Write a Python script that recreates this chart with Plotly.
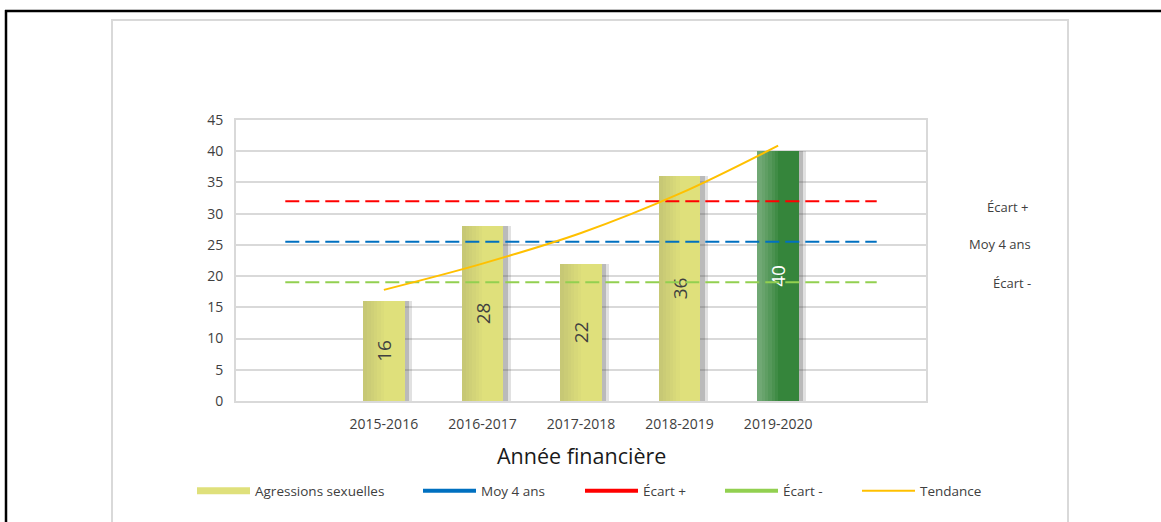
import plotly.graph_objects as go

# Data
years = ["2015-2016", "2016-2017", "2017-2018", "2018-2019", "2019-2020"]
agressions = [16, 28, 22, 36, 40]
tendance = [17.8, 22.0, 26.9, 33.2, 40.9]   # Excel exponential trendline, read at each year
moy_4_ans = 25.5
ecart_plus = 32.0
ecart_moins = 19.0
y_ticks = [0, 5, 10, 15, 20, 25, 30, 35, 40, 45]

# x positions: one empty slot on each side of the bars, the reference lines span all 7 slots
bar_x = [1, 2, 3, 4, 5]
line_x = [0, 6]

W, H = 1161, 522
PL, PR, PT, PB = 236, 926, 120, 401   # plot area in pixels


def fx(px):
    return (px - PL) / (PR - PL)


def fy(py):
    return (PB - py) / (PB - PT)


YELLOW = "#dfe07b"
GREEN = "#35853b"
bar_colors = [YELLOW] * 4 + [GREEN]
label_colors = ["#404040"] * 4 + ["white"]
BW = 0.42
FONT = "Open Sans, Liberation Sans, sans-serif"

fig = go.Figure()

# soft shadow on the right of each bar (two layers for a little blur)
for off, op in [(0.075, 0.16), (0.045, 0.25)]:
    fig.add_trace(go.Bar(
        x=bar_x, y=agressions, width=BW, offset=-BW / 2 + off,
        marker=dict(color="rgba(70,70,70,%.2f)" % op, line=dict(width=0)),
        showlegend=False, hoverinfo="skip",
    ))
# the bars
fig.add_trace(go.Bar(
    x=bar_x, y=agressions, width=BW, offset=-BW / 2,
    marker=dict(color=bar_colors, line=dict(width=0)),
    text=[str(v) for v in agressions], textposition="inside",
    insidetextanchor="middle", textangle=-90, constraintext="none",
    textfont=dict(family=FONT, size=19, color=label_colors),
    showlegend=False,
))
# gradient-like shading on the left part of each bar
for frac in [0.5, 0.42, 0.34, 0.26, 0.18, 0.1]:
    fig.add_trace(go.Bar(
        x=bar_x, y=agressions, width=BW * frac, offset=-BW / 2,
        marker=dict(color=["rgba(120,120,100,0.035)"] * 4 + ["rgba(255,255,255,0.06)"],
                    line=dict(width=0)),
        showlegend=False, hoverinfo="skip",
    ))

dash = "14px,6px"
for val, col in [(ecart_plus, "#ff0000"), (moy_4_ans, "#0070c0"), (ecart_moins, "#92d050")]:
    fig.add_trace(go.Scatter(
        x=line_x, y=[val, val], mode="lines",
        line=dict(color=col, width=2, dash=dash),
        showlegend=False,
    ))

fig.add_trace(go.Scatter(
    x=bar_x, y=tendance, mode="lines",
    line=dict(color="#ffc000", width=2, shape="spline"),
    showlegend=False,
))

# legend entries, one legend per item so each can be placed like the original
legend_items = [
    ("Agressions sexuelles", YELLOW, 7, 197),
    ("Moy 4 ans", "#0070c0", 4, 423),
    ("Écart +", "#ff0000", 4, 585),
    ("Écart -", "#92d050", 4, 725),
    ("Tendance", "#ffc000", 2, 862),
]
legend_layouts = {}
for i, (name, col, lw, xpix) in enumerate(legend_items):
    key = "legend" if i == 0 else "legend%d" % (i + 1)
    fig.add_trace(go.Scatter(
        x=[None], y=[None], mode="lines", name=name,
        line=dict(color=col, width=lw), legend=key,
    ))
    legend_layouts[key] = dict(
        x=fx(xpix - 5), xanchor="left", y=fy(491), yanchor="middle",
        orientation="h", itemwidth=53, bgcolor="rgba(0,0,0,0)",
        font=dict(family=FONT, size=13.5, color="#404040"),
        itemclick=False, itemdoubleclick=False,
    )

# labels to the right of the reference lines
for txt, val, xpix in [("Écart +", 31.1, 1007), ("Moy 4 ans", 25.2, 1000), ("Écart -", 18.9, 1012)]:
    fig.add_annotation(
        x=fx(xpix), xref="paper", y=val, yref="y", text=txt, showarrow=False,
        xanchor="center", yanchor="middle",
        font=dict(family=FONT, size=13, color="#404040"),
    )

# axis title
fig.add_annotation(
    x=0.5, xref="paper", y=fy(455), yref="paper", text="Année financière",
    showarrow=False, xanchor="center", yanchor="middle",
    font=dict(family=FONT, size=21.5, color="#1a1a1a"),
)

# frames: black outer frame and light gray chart frame
fig.add_shape(type="line", xref="paper", yref="paper",
              x0=fx(5), x1=fx(1161), y0=fy(11), y1=fy(11),
              line=dict(color="black", width=2.5))
fig.add_shape(type="line", xref="paper", yref="paper",
              x0=fx(6), x1=fx(6), y0=fy(10), y1=fy(530),
              line=dict(color="black", width=2.5))
fig.add_shape(type="rect", xref="paper", yref="paper",
              x0=fx(112), x1=fx(1068), y0=fy(20), y1=fy(540),
              line=dict(color="#d9d9d9", width=2))

fig.update_layout(
    width=W, height=H,
    margin=dict(l=PL, r=W - PR, t=PT, b=H - PB, pad=0),
    paper_bgcolor="white", plot_bgcolor="white",
    barmode="overlay", bargap=0,
    font=dict(family=FONT, color="#595959"),
    **legend_layouts,
)
fig.update_xaxes(
    range=[-0.5, 6.5], tickvals=bar_x, ticktext=years,
    tickfont=dict(family=FONT, size=14, color="#404040"),
    showgrid=False, zeroline=False, ticklabelstandoff=9,
    showline=True, linecolor="#d9d9d9", linewidth=2, mirror=True,
)
fig.update_yaxes(
    range=[0, 45], tickvals=y_ticks,
    tickfont=dict(family=FONT, size=14, color="#404040"),
    showgrid=True, gridcolor="#d9d9d9", gridwidth=1.5, zeroline=False,
    ticklabelstandoff=8,
    showline=True, linecolor="#d9d9d9", linewidth=2, mirror=True,
)

# the page margin would shift the chart, so drop it
fig.write_html("out.html", config={"displayModeBar": False},
               post_script="document.body.style.margin='0';")
